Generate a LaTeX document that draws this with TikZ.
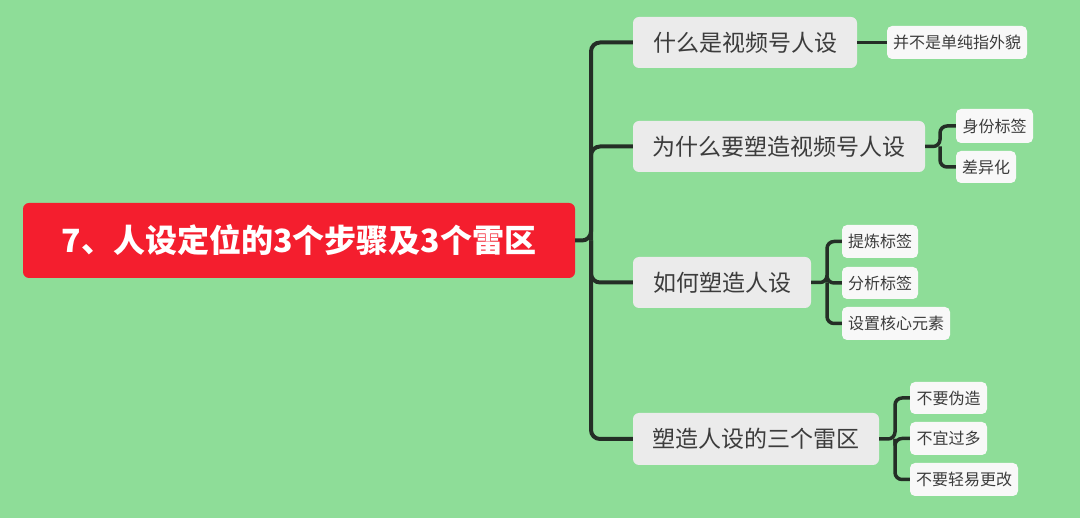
\documentclass[tikz,border=0pt]{standalone}
\usepackage{fontspec}
\setmainfont{Noto Sans CJK SC}
\definecolor{bg}{RGB}{142,221,152}
\definecolor{linec}{RGB}{36,46,38}
\definecolor{lvlone}{RGB}{235,235,235}
\definecolor{leaffill}{RGB}{248,248,248}
\definecolor{txt}{RGB}{60,60,60}
\definecolor{rootred}{RGB}{244,30,46}
\begin{document}
\begin{tikzpicture}[x=1pt,y=-1pt,
  rootbox/.style={fill=rootred,rounded corners=6pt,text=white,font=\fontsize{32}{36}\selectfont\bfseries,inner sep=0pt},
  mainbox/.style={fill=lvlone,rounded corners=6pt,text=txt,font=\fontsize{23}{26}\selectfont,inner sep=0pt},
  leafbox/.style={fill=leaffill,rounded corners=5pt,text=txt,font=\fontsize{16}{19}\selectfont,inner sep=0pt},
  trunk/.style={draw=linec,line width=4pt,rounded corners=9pt},
  twig/.style={draw=linec,line width=3.5pt,rounded corners=7pt}]
\fill[bg] (0,0) rectangle (1080,518);
\useasboundingbox (0,0) rectangle (1080,518);

\node[rootbox,minimum width=552pt,minimum height=75pt] (root) at (299,240.5) {7、人设定位的3个步骤及3个雷区};

\node[mainbox,minimum width=224pt,minimum height=51pt] (n1) at (745,42.5) {什么是视频号人设};
\node[mainbox,minimum width=292pt,minimum height=51pt] (n2) at (779,146.5) {为什么要塑造视频号人设};
\node[mainbox,minimum width=178pt,minimum height=51pt] (n3) at (722,282.5) {如何塑造人设};
\node[mainbox,minimum width=246pt,minimum height=52pt] (n4) at (756,439) {塑造人设的三个雷区};

\node[leafbox,minimum width=140pt,minimum height=33pt] (l11) at (957,42.5) {并不是单纯指外貌};
\node[leafbox,minimum width=77pt,minimum height=34pt] (l21) at (994.5,126) {身份标签};
\node[leafbox,minimum width=60pt,minimum height=32pt] (l22) at (986,167) {差异化};
\node[leafbox,minimum width=76pt,minimum height=33pt] (l31) at (880,241.5) {提炼标签};
\node[leafbox,minimum width=76pt,minimum height=32pt] (l32) at (880,283) {分析标签};
\node[leafbox,minimum width=108pt,minimum height=33pt] (l33) at (896,323.5) {设置核心元素};
\node[leafbox,minimum width=77pt,minimum height=32pt] (l41) at (948.5,398) {不要伪造};
\node[leafbox,minimum width=77pt,minimum height=33pt] (l42) at (948.5,438.5) {不宜过多};
\node[leafbox,minimum width=108pt,minimum height=33pt] (l43) at (964,479.5) {不要轻易更改};

\coordinate (J) at (591,240.5);
\coordinate (J2) at (940,146.5);
\coordinate (J3) at (827,282.5);
\coordinate (J4) at (895,439);

\draw[trunk] (root.east) -- (J) |- (n1.west);
\draw[trunk] (J) |- (n2.west);
\draw[trunk] (J) |- (n3.west);
\draw[trunk] (J) |- (n4.west);

\draw[twig] (n1.east) -- (l11.west);
\draw[twig] (n2.east) -- (J2) |- (l21.west);
\draw[twig] (J2) |- (l22.west);
\draw[twig] (n3.east) -- (J3) |- (l31.west);
\draw[twig] (J3) |- (l32.west);
\draw[twig] (J3) |- (l33.west);
\draw[twig] (n4.east) -- (J4) |- (l41.west);
\draw[twig] (J4) |- (l42.west);
\draw[twig] (J4) |- (l43.west);
\end{tikzpicture}
\end{document}
